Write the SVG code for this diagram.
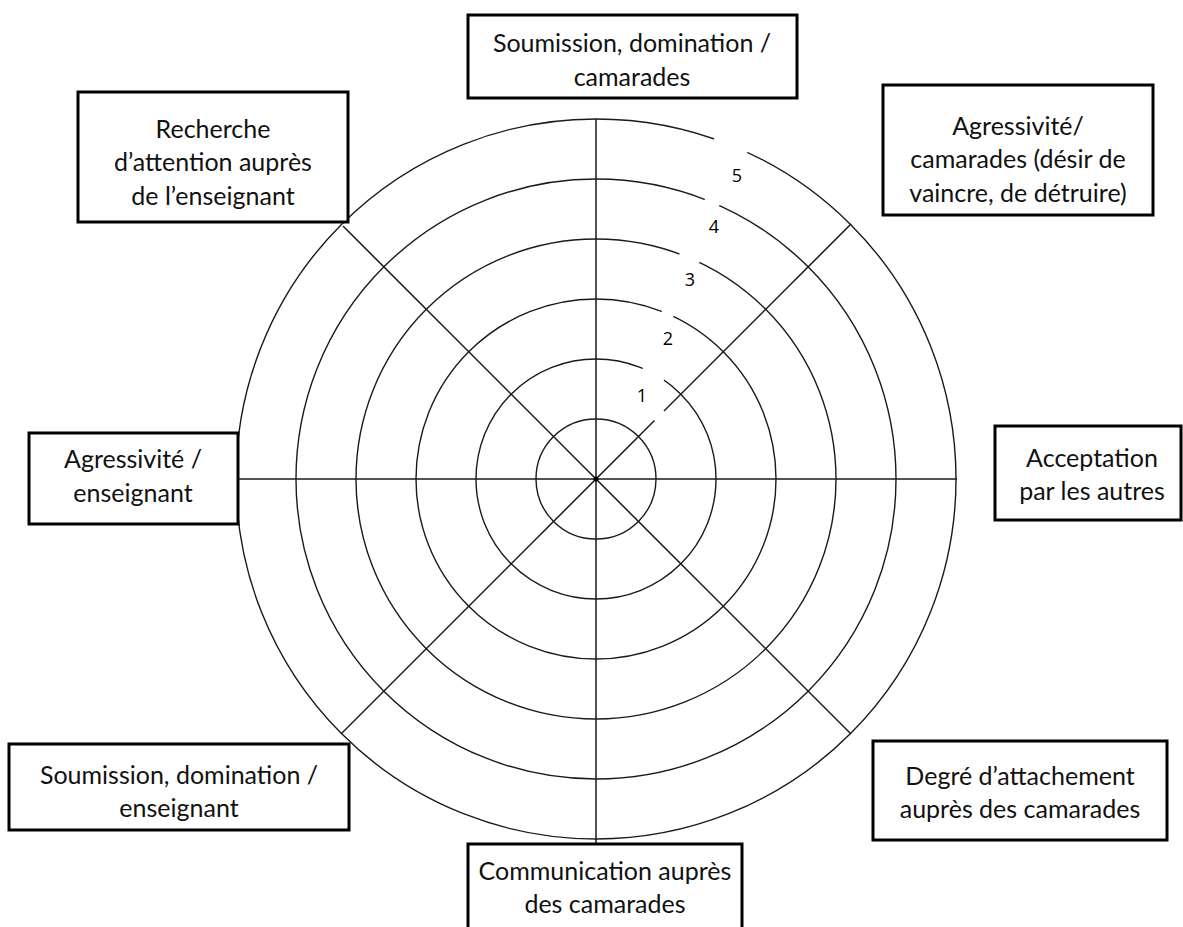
<svg xmlns="http://www.w3.org/2000/svg" width="1183" height="927" viewBox="0 0 1183 927">
<style>
.ring{fill:none;stroke:#1a1a1a;stroke-width:1.4}
.axis{stroke:#1a1a1a;stroke-width:1.5}
.mask{stroke:#fff;stroke-width:5;stroke-linecap:butt}
.box{fill:#fff;stroke:#000;stroke-width:3}
.lbl{font-family:Lato,"Liberation Sans",sans-serif;font-size:25px;fill:#111;text-anchor:middle}
.num{font-family:"Open Sans","Liberation Sans",sans-serif;font-size:18px;fill:#000;text-anchor:middle}
</style>
<rect width="1183" height="927" fill="#fff"/>
<g id="grid">
<circle class="ring" cx="596" cy="479" r="60"/>
<circle class="ring" cx="596" cy="479" r="120"/>
<circle class="ring" cx="596" cy="479" r="180"/>
<circle class="ring" cx="596" cy="479" r="240"/>
<circle class="ring" cx="596" cy="479" r="300"/>
<circle class="ring" cx="596" cy="479" r="360"/>
</g>
<g id="connectors">
<line class="axis" x1="596" y1="119" x2="596" y2="844"/>
<line class="axis" x1="236" y1="479" x2="957" y2="479"/>
<line class="axis" x1="343" y1="226" x2="851" y2="734"/>
<line class="axis" x1="851" y1="224" x2="341" y2="734"/>
<circle cx="596" cy="479" r="2.5" fill="#000"/>
</g>
<g id="gaps">
<line class="mask" x1="643" y1="368" x2="664" y2="380"/>
<line class="mask" x1="655" y1="421" x2="664" y2="411"/>
<line class="mask" x1="662" y1="311" x2="673" y2="317"/>
<line class="mask" x1="680" y1="253" x2="699" y2="263"/>
<line class="mask" x1="705" y1="199" x2="719" y2="206"/>
<line class="mask" x1="714" y1="139" x2="747" y2="153"/>
</g>
<g id="scale">
<text class="num" x="642" y="402">1</text>
<text class="num" x="668" y="345">2</text>
<text class="num" x="690" y="286">3</text>
<text class="num" x="714" y="233">4</text>
<text class="num" x="737" y="182">5</text>
</g>
<g id="n-top">
<rect class="box" x="468" y="15" width="329" height="83"/>
<text class="lbl" x="632" y="52">Soumission, domination /</text>
<text class="lbl" x="632" y="86">camarades</text>
</g>
<g id="n-topleft">
<rect class="box" x="78" y="92" width="270" height="130"/>
<text class="lbl" x="213" y="138">Recherche</text>
<text class="lbl" x="213" y="171">d’attention auprès</text>
<text class="lbl" x="213" y="205">de l’enseignant</text>
</g>
<g id="n-topright">
<rect class="box" x="883" y="85" width="270" height="130"/>
<text class="lbl" x="1018" y="135">Agressivité/</text>
<text class="lbl" x="1018" y="168">camarades (désir de</text>
<text class="lbl" x="1018" y="202">vaincre, de détruire)</text>
</g>
<g id="n-left">
<rect class="box" x="29" y="433" width="209" height="91"/>
<text class="lbl" x="133" y="468">Agressivité /</text>
<text class="lbl" x="133" y="502">enseignant</text>
</g>
<g id="n-right">
<rect class="box" x="995" y="426" width="186" height="94"/>
<text class="lbl" x="1092" y="467">Acceptation</text>
<text class="lbl" x="1092" y="500">par les autres</text>
</g>
<g id="n-bottomleft">
<rect class="box" x="9" y="744" width="340" height="86"/>
<text class="lbl" x="179" y="784">Soumission, domination /</text>
<text class="lbl" x="179" y="817">enseignant</text>
</g>
<g id="n-bottomright">
<rect class="box" x="873" y="741" width="294" height="99"/>
<text class="lbl" x="1020" y="785">Degré d’attachement</text>
<text class="lbl" x="1020" y="818">auprès des camarades</text>
</g>
<g id="n-bottom">
<rect class="box" x="468" y="844" width="274" height="90"/>
<text class="lbl" x="605" y="880">Communication auprès</text>
<text class="lbl" x="605" y="913">des camarades</text>
</g>
</svg>
